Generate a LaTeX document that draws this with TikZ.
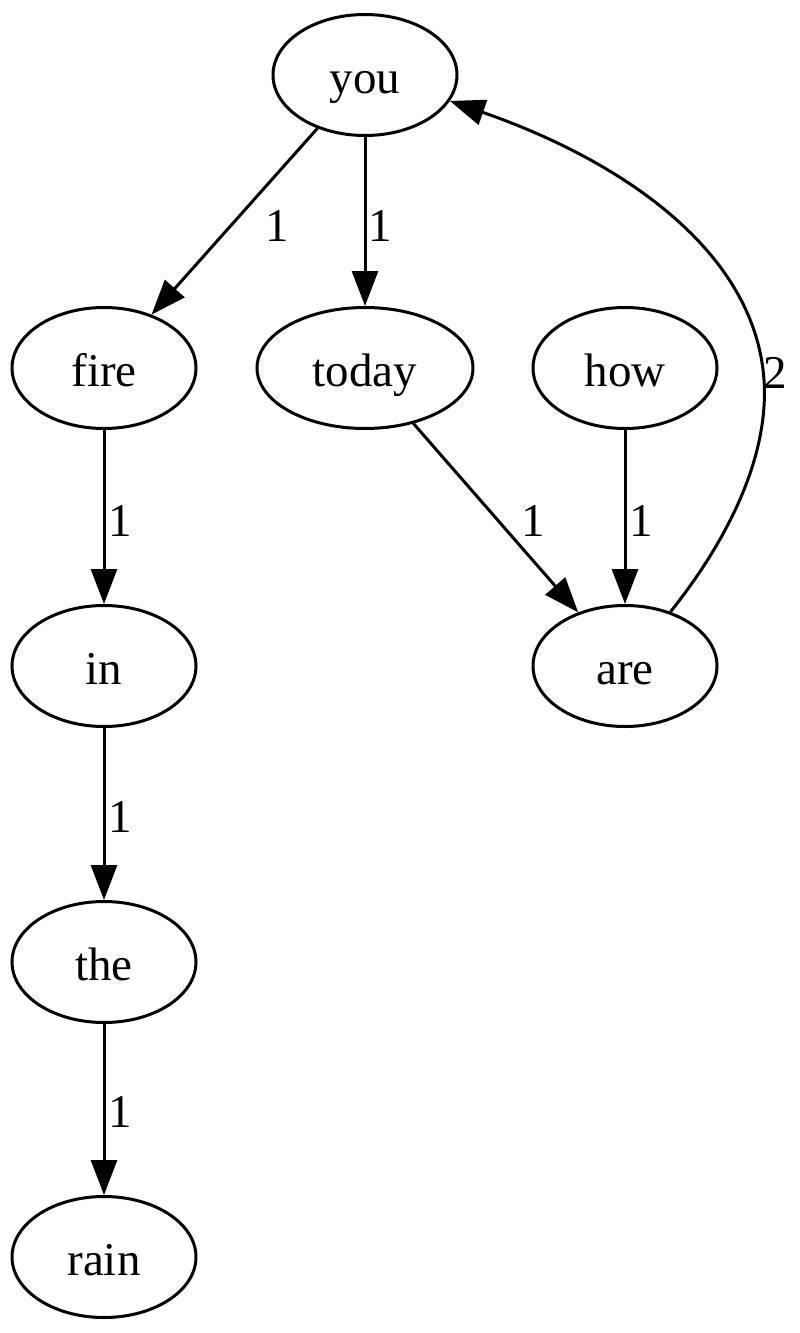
\documentclass[tikz,border=0pt]{standalone}
\usepackage{fontspec}
\setmainfont{Liberation Serif}
\usetikzlibrary{shapes.geometric,arrows.meta}
\begin{document}
\begin{tikzpicture}[x=1pt,y=-1pt,
  nd/.style={ellipse,draw,line width=3pt,minimum width=184pt,minimum height=121pt,inner sep=0pt,
    font=\fontsize{47}{56}\selectfont,text height=40pt,text depth=4pt},
  lbl/.style={font=\fontsize{47}{56}\selectfont,inner sep=0pt},
  ed/.style={line width=3pt,-{Triangle[length=35pt,width=26pt]}}]
\useasboundingbox (0,0) rectangle (800,1333);
\node[nd] (you) at (365,75) {you};
\node[nd] (fire) at (104,368) {fire};
\node[nd,minimum width=216pt] (today) at (365,368) {today};
\node[nd] (how) at (625,368) {how};
\node[nd] (in) at (104,666) {in};
\node[nd] (are) at (625,666) {are};
\node[nd] (the) at (104,962) {the};
\node[nd] (rain) at (104,1257) {rain};
\coordinate (bend) at (764,380);
\draw[ed] (you) -- (fire);
\draw[ed] (you) -- (today);
\draw[ed] (today) -- (are);
\draw[ed] (how) -- (are);
\draw[ed] (fire) -- (in);
\draw[ed] (in) -- (the);
\draw[ed] (the) -- (rain);
\draw[ed] (are.50) .. controls (712,560) and (770,470) .. (bend) .. controls (755,250) and (620,160) .. (you.-17);
\node[lbl] (l1) at (277,226) {1};
\node[lbl] (l2) at (380,226) {1};
\node[lbl] (l3) at (533,521) {1};
\node[lbl] (l4) at (641,521) {1};
\node[lbl] (l5) at (120,521) {1};
\node[lbl] (l6) at (120,817) {1};
\node[lbl] (l7) at (120,1112) {1};
\node[lbl] (l8) at (775,373) {2};
\end{tikzpicture}
\end{document}
